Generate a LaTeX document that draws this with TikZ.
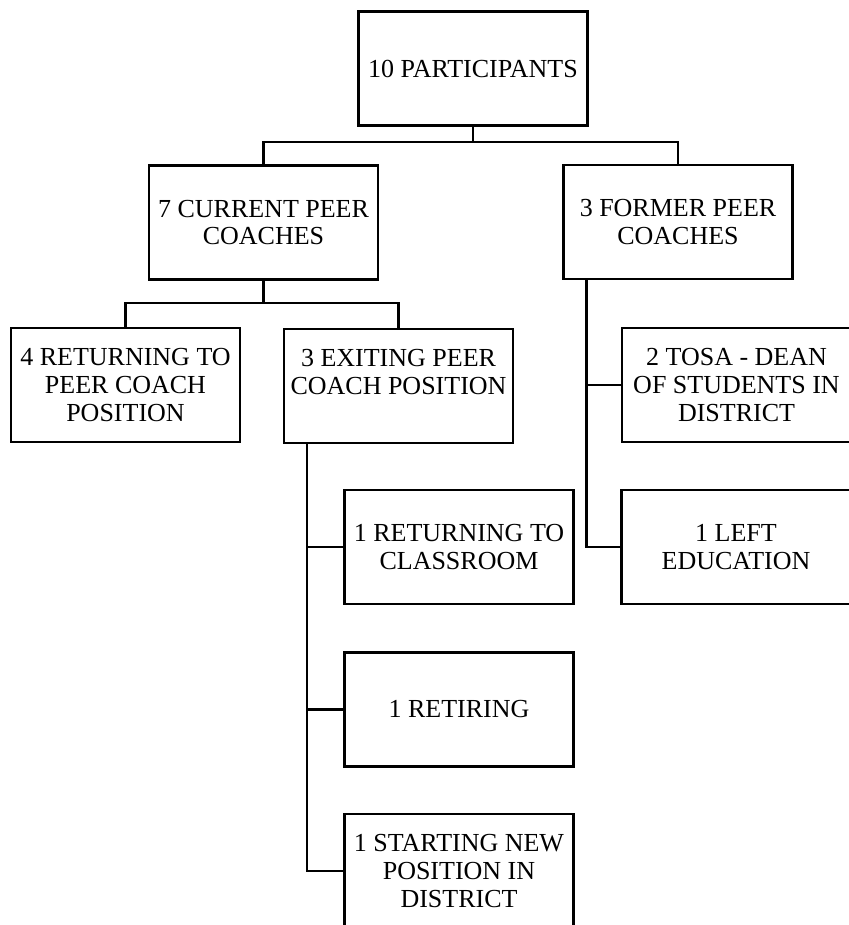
\documentclass[tikz,border=0pt]{standalone}
\usepackage{fontspec}
\setmainfont{Liberation Serif}
\begin{document}
\begin{tikzpicture}[x=1pt,y=-1pt,
  box/.style={draw=black,line width=2.2pt,minimum width=229pt,minimum height=114pt,
    align=center,inner sep=2pt,font=\fontsize{26}{27.7}\selectfont},
  conn/.style={draw=black,line width=2.2pt}]
\useasboundingbox (0,0) rectangle (848,925);
\node[box] (top) at (473,68.5) {10 PARTICIPANTS};
\node[box] (cur) at (263.5,222.5) {7 CURRENT PEER\\COACHES};
\node[box] (former) at (678,222) {3 FORMER PEER\\COACHES};
\node[box] (ret4) at (125.5,385) {4 RETURNING TO\\PEER COACH\\POSITION};
\node[box] (exit3) at (398.5,386) {3 EXITING PEER\\COACH POSITION\\~};
\node[box] (tosa) at (736.5,385) {2 TOSA - DEAN\\OF STUDENTS IN\\DISTRICT};
\node[box] (left) at (736,547) {1 LEFT\\EDUCATION};
\node[box] (class) at (459,547) {1 RETURNING TO\\CLASSROOM};
\node[box] (retire) at (459,709.5) {1 RETIRING};
\node[box] (start) at (459,871) {1 STARTING NEW\\POSITION IN\\DISTRICT};
\coordinate (j1) at (473,142);
\coordinate (j2) at (263.5,303);
\draw[conn] (top.south) -- (j1) -| (cur.north);
\draw[conn] (j1) -| (former.north);
\draw[conn] (cur.south) -- (j2) -| (ret4.north);
\draw[conn] (j2) -| (exit3.north);
\coordinate (ev) at ([xshift=24pt]exit3.south west);
\draw[conn] (ev) |- (start.west);
\draw[conn] (ev) |- (class.west);
\draw[conn] (ev) |- (retire.west);
\coordinate (fv) at ([xshift=24pt]former.south west);
\draw[conn] (fv) |- (left.west);
\draw[conn] (fv) |- (tosa.west);
\end{tikzpicture}
\end{document}
